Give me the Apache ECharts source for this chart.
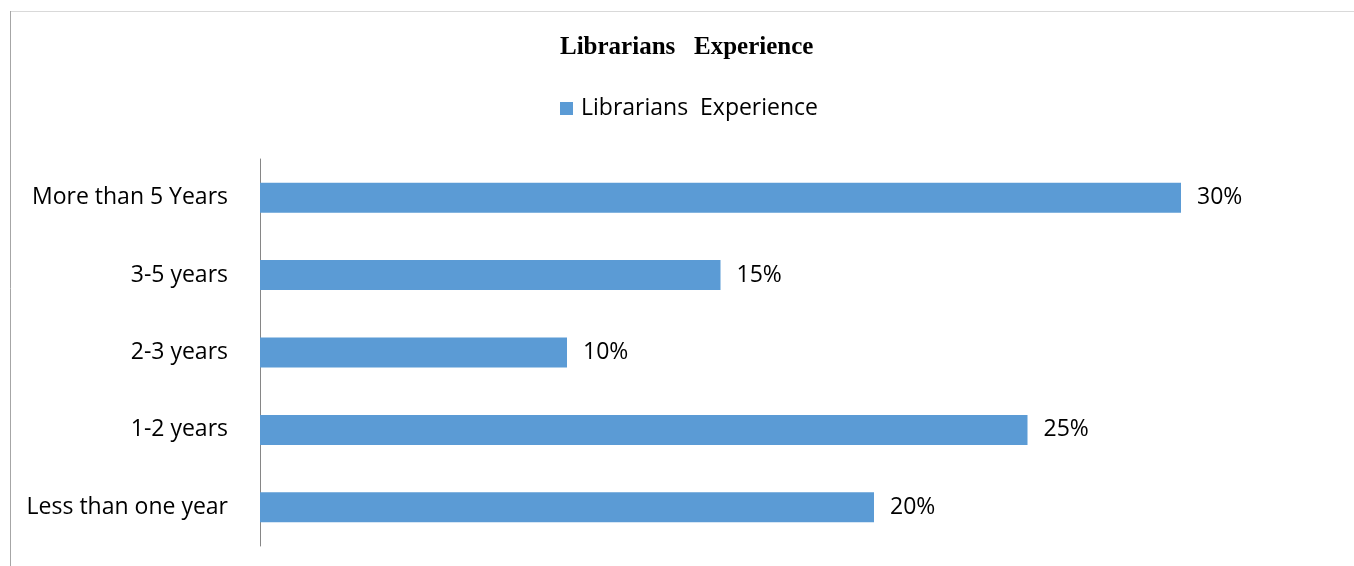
<!DOCTYPE html>
<html><head><meta charset="utf-8">
<script src="https://cdn.jsdelivr.net/npm/echarts@6/dist/echarts.min.js"></script>
<style>html,body{margin:0;padding:0;background:#fff}#c{width:1354px;height:566px}</style>
</head><body><div id="c"></div>
<script>
var categories = ['Less than one year', '1-2 years', '2-3 years', '3-5 years', 'More than 5 Years'];
var values = [20, 25, 10, 15, 30];
var seriesName = 'Librarians  Experience';
var titleText = 'Librarians   Experience';

var chart = echarts.init(document.getElementById('c'));
chart.setOption({
  animation: false,
  backgroundColor: '#fff',
  graphic: [
    {type: 'line', shape: {x1: 10, y1: 11.5, x2: 1354, y2: 11.5}, style: {stroke: '#d9d9d9', lineWidth: 1}},
    {type: 'line', shape: {x1: 10.5, y1: 11, x2: 10.5, y2: 566}, style: {stroke: '#a6a6a6', lineWidth: 1}}
  ],
  title: {
    text: titleText, left: 560, top: 35, padding: 0,
    textStyle: {fontFamily: 'Liberation Serif', fontWeight: 'bold', fontSize: 25, color: '#000'}
  },
  legend: {
    top: 92, left: 555, itemWidth: 13, itemHeight: 13, itemGap: 10,
    icon: 'rect',
    textStyle: {fontFamily: 'Open Sans', fontSize: 23, color: '#000', padding: [0, 0, 0, 3]},
    data: [seriesName]
  },
  grid: {left: 260, right: 173, top: 159, bottom: 20, containLabel: false},
  xAxis: {type: 'value', min: 0, max: 30, show: false},
  yAxis: {
    type: 'category', data: categories,
    axisLine: {show: true, lineStyle: {color: '#868686', width: 1}},
    axisTick: {show: false},
    axisLabel: {margin: 32, fontFamily: 'Open Sans', fontSize: 23, color: '#000', padding: [4, 0, 0, 0]}
  },
  series: [{
    name: seriesName, type: 'bar', data: values, barWidth: 30,
    itemStyle: {color: '#5b9bd5'},
    label: {show: true, position: 'right', distance: 16, formatter: '{c}%',
      fontFamily: 'Open Sans', fontSize: 23, color: '#000', padding: [5, 0, 0, 0]}
  }]
});
</script></body></html>
